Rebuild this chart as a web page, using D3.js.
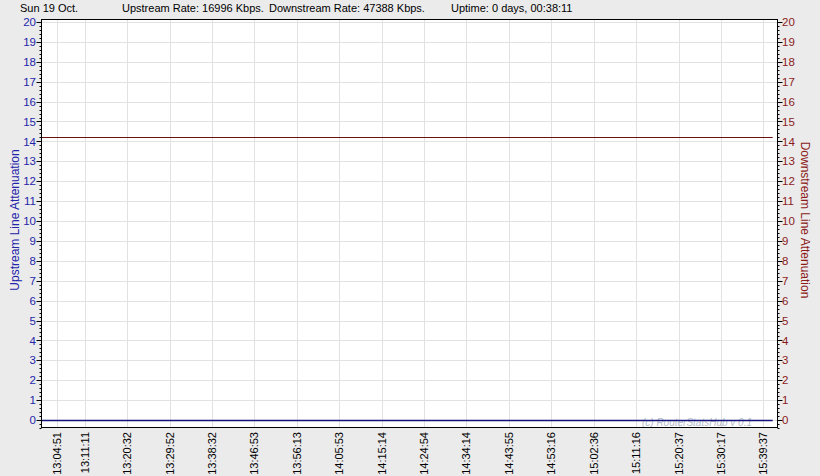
<!DOCTYPE html>
<html><head><meta charset="utf-8">
<script src="https://cdn.jsdelivr.net/npm/d3@7"></script>
<style>
html,body{margin:0;padding:0;background:#ebebeb;}
svg{display:block;font-family:"Liberation Sans",Arial,sans-serif;}
</style></head>
<body>
<svg id="chart" width="820" height="476"></svg>
<script>
// ---- data ----
const headerTexts = ["Sun 19 Oct.", "Upstream Rate: 16996 Kbps.", "Downstream Rate: 47388 Kbps.", "Uptime: 0 days, 00:38:11"];
const tickLabels = ["13:04:51","13:11:11","13:20:32","13:29:52","13:38:32","13:46:53","13:56:13","14:05:53","14:15:14","14:24:54","14:34:14","14:43:55","14:53:16","15:02:36","15:11:16","15:20:37","15:30:17","15:39:37"];
const tickSamples = [12, 33, 65, 97, 129, 161, 193, 225, 257, 289, 321, 353, 385, 417, 449, 481, 513, 545];
const sampleIndex = [0, 552];
const upstreamAtten = [0, 0];
const downstreamAtten = [14.2, 14.2];
const yTicks = d3.range(0, 21);
const sampleDomain = [0, 556];
const yDomain = [-0.4, 20.15];

// ---- layout ----
const svg = d3.select("#chart");
const L = 41, R = 778, T = 19, B = 428;
const blue = "#2424aa", maroon = "#8b1a1a";
const x = d3.scaleLinear().domain(sampleDomain).range([L, R]);
const y = d3.scaleLinear().domain(yDomain).range([B, T]);

// plot background
svg.append("rect").attr("x", L).attr("y", T).attr("width", R - L).attr("height", B - T).attr("fill", "#fff");

// grid
svg.append("g").selectAll("line").data(yTicks).join("line")
  .attr("x1", L).attr("x2", R).attr("y1", d => Math.round(y(d)) + 0.5).attr("y2", d => Math.round(y(d)) + 0.5)
  .attr("stroke", "#e2e2e2");
svg.append("g").selectAll("line").data(tickSamples).join("line")
  .attr("x1", d => Math.round(x(d)) + 0.5).attr("x2", d => Math.round(x(d)) + 0.5).attr("y1", T).attr("y2", B)
  .attr("stroke", "#e2e2e2");

// watermark
svg.append("text").attr("x", 752).attr("y", 426).attr("text-anchor", "end")
  .attr("font-size", 10).attr("font-style", "italic").attr("fill", "#b4bccc")
  .text("(c) RouterStatsHub v 0.1");

// lines
const pts = s => sampleIndex.map((d, i) => [d, s[i]]);
const line = d3.line().x(d => x(d[0])).y(d => Math.round(y(d[1])) + 0.5);
svg.append("path").attr("d", line(pts(downstreamAtten))).attr("fill", "none").attr("stroke", "#6a1212").attr("stroke-width", 1.2);
svg.append("path").attr("d", line(pts(upstreamAtten))).attr("fill", "none").attr("stroke", "#12127a").attr("stroke-width", 1.5);

// frame
svg.append("rect").attr("x", L + 0.5).attr("y", T + 0.5).attr("width", R - L - 1).attr("height", B - T - 1)
  .attr("fill", "none").attr("stroke", "#000");

// y axes
const minor = d3.range(-0.4, 20.15, 0.2).filter(v => Math.abs(v - Math.round(v)) > 0.01);
function yAxis(side) {
  const g = svg.append("g");
  const xe = side === "left" ? L + 0.5 : R - 0.5;
  const dir = side === "left" ? -1 : 1;
  g.selectAll(".mj").data(yTicks).join("line")
    .attr("x1", xe).attr("x2", xe + dir * 5)
    .attr("y1", d => Math.round(y(d)) + 0.5).attr("y2", d => Math.round(y(d)) + 0.5).attr("stroke", "#000");
  g.selectAll(".mn").data(minor).join("line")
    .attr("x1", xe).attr("x2", xe + dir * 2)
    .attr("y1", d => Math.round(y(d)) + 0.5).attr("y2", d => Math.round(y(d)) + 0.5).attr("stroke", "#000");
  g.selectAll("text").data(yTicks).join("text")
    .attr("x", side === "left" ? 36 : 782).attr("y", d => y(d)).attr("dy", "0.36em")
    .attr("text-anchor", side === "left" ? "end" : "start")
    .attr("font-size", 11.5).attr("fill", side === "left" ? blue : maroon).text(d => d);
}
yAxis("left");
yAxis("right");

// axis titles
svg.append("text").attr("transform", "translate(19,220) rotate(-90)").attr("text-anchor", "middle")
  .attr("font-size", 12).attr("fill", blue).text("Upstream Line Attenuation");
svg.append("text").attr("transform", "translate(801,220) rotate(90)").attr("text-anchor", "middle")
  .attr("font-size", 12).attr("fill", maroon).text("Downstream Line Attenuation");

// x labels
svg.append("g").selectAll("text").data(tickSamples).join("text")
  .attr("transform", d => `translate(${x(d) + 4},432) rotate(-90)`)
  .attr("text-anchor", "end").attr("font-size", 11).attr("fill", "#000")
  .text((d, i) => tickLabels[i]);

// header
const hx = [20, 122, 269, 451];
svg.append("g").selectAll("text").data(headerTexts).join("text")
  .attr("x", (d, i) => hx[i]).attr("y", 12).attr("font-size", 11).attr("fill", "#000").text(d => d);
</script>
</body></html>
